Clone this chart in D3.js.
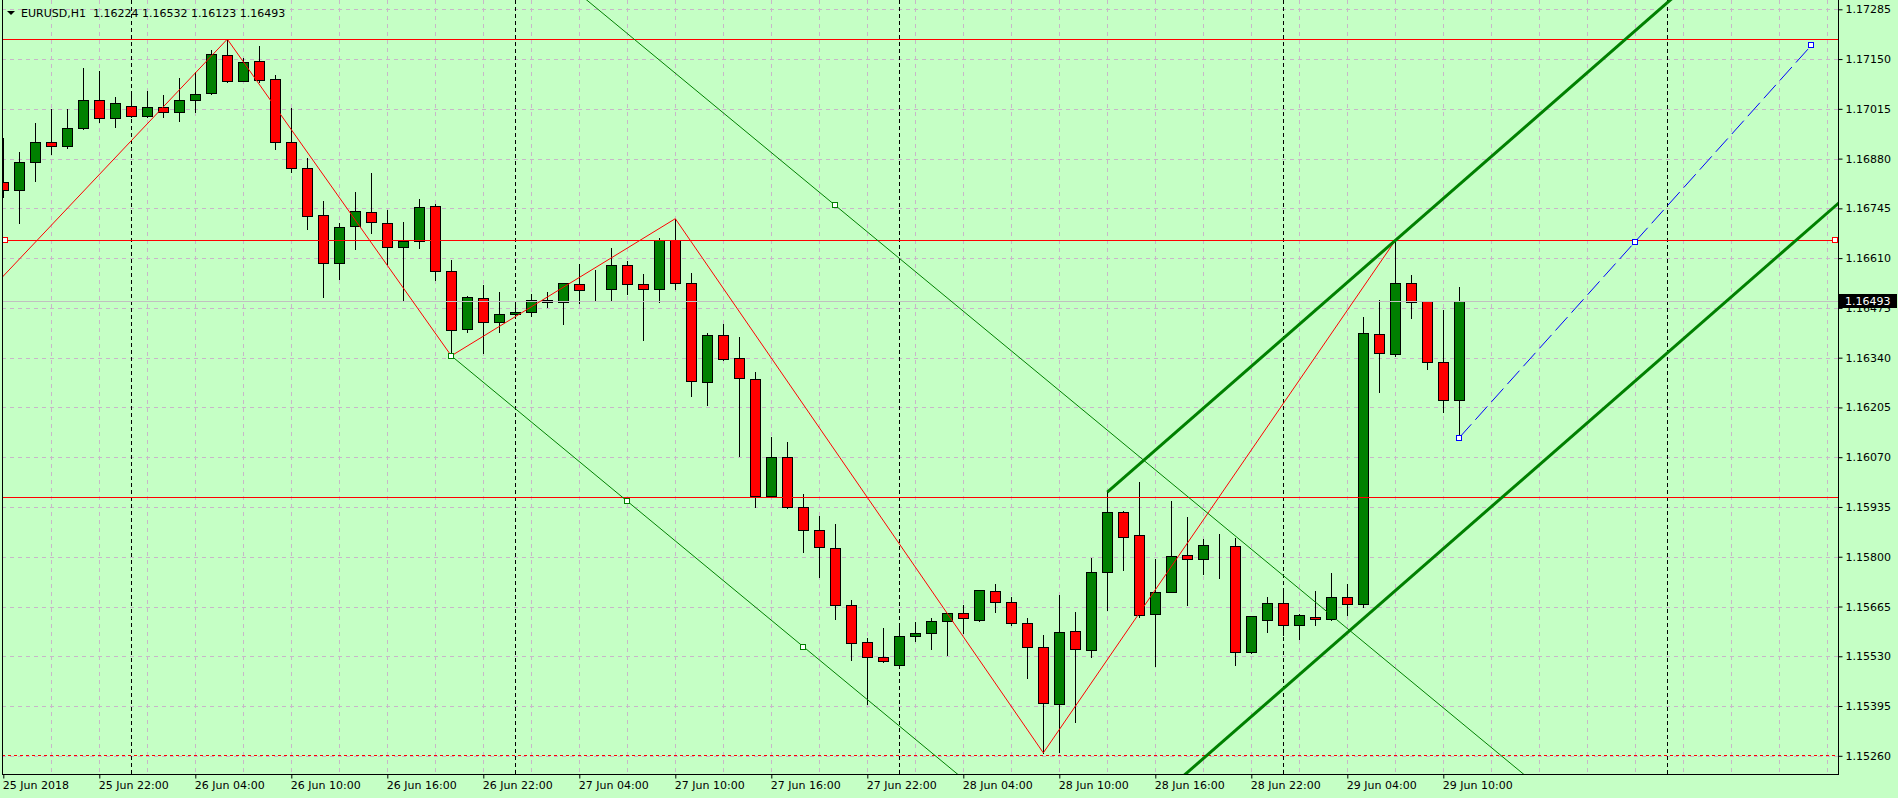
<!DOCTYPE html>
<html>
<head>
<meta charset="utf-8">
<script src="https://cdn.jsdelivr.net/npm/d3@7"></script>
<style>
  body { margin: 0; background: #c5ffc5; }
  svg { display: block; }
</style>
</head>
<body>
<svg id="chart" width="1898" height="798"></svg>
<script>

// EURUSD H1, first bar = 25 Jun 2018 16:00
var opens = [1.16817,1.16795,1.16872,1.16924,1.16913,1.16964,1.17038,1.16989,1.17022,1.16995,
	1.17019,1.17006,1.17038,1.17057,1.17160,1.17091,1.17144,1.17095,1.16924,1.16854,
	1.16726,1.16596,1.16696,1.16734,1.16705,1.16639,1.16656,1.16751,1.16574,1.16417,
	1.16501,1.16436,1.16458,1.16463,1.16496,1.16490,1.16539,1.16525,1.16525,1.16591,
	1.16539,1.16525,1.16658,1.16542,1.16273,1.16401,1.16338,1.16281,1.15964,1.16070,
	1.15934,1.15872,1.15823,1.15668,1.15568,1.15527,1.15506,1.15584,1.15592,1.15625,
	1.15647,1.15629,1.15706,1.15676,1.15619,1.15554,1.15400,1.15598,1.15546,1.15758,
	1.15921,1.15858,1.15644,1.15704,1.15804,1.15793,1.15830,1.15828,1.15541,1.15628,
	1.15674,1.15614,1.15636,1.15630,1.15690,1.15671,1.16403,1.16349,1.16542,1.16493,
	1.16327,1.16224];
var highs = [1.16935,1.16897,1.16976,1.17015,1.17015,1.17125,1.17118,1.17047,1.17060,1.17063,
	1.17053,1.17098,1.17114,1.17174,1.17204,1.17152,1.17185,1.17106,1.17016,1.16881,
	1.16764,1.16705,1.16789,1.16840,1.16740,1.16707,1.16770,1.16756,1.16604,1.16507,
	1.16537,1.16517,1.16490,1.16512,1.16517,1.16543,1.16594,1.16578,1.16637,1.16602,
	1.16567,1.16664,1.16717,1.16569,1.16406,1.16431,1.16396,1.16300,1.16126,1.16110,
	1.15970,1.15910,1.15888,1.15682,1.15579,1.15606,1.15617,1.15622,1.15633,1.15648,
	1.15668,1.15710,1.15725,1.15690,1.15633,1.15587,1.15695,1.15649,1.15796,1.15975,
	1.15923,1.16002,1.15793,1.15950,1.15907,1.15847,1.15861,1.15850,1.15639,1.15690,
	1.15709,1.15644,1.15706,1.15755,1.15725,1.16450,1.16496,1.16658,1.16563,1.16494,
	1.16469,1.16532];
var lows = [1.16777,1.16706,1.16820,1.16893,1.16908,1.16960,1.16980,1.16967,1.16994,1.16993,
	1.16994,1.16983,1.17007,1.17056,1.17087,1.17090,1.17089,1.16907,1.16844,1.16689,
	1.16505,1.16553,1.16636,1.16677,1.16595,1.16495,1.16638,1.16552,1.16345,1.16409,
	1.16354,1.16410,1.16452,1.16454,1.16478,1.16432,1.16489,1.16496,1.16493,1.16514,
	1.16389,1.16490,1.16525,1.16235,1.16211,1.16333,1.16072,1.15936,1.15961,1.15931,
	1.15812,1.15746,1.15632,1.15521,1.15401,1.15515,1.15505,1.15572,1.15551,1.15534,
	1.15592,1.15627,1.15649,1.15616,1.15470,1.15268,1.15270,1.15351,1.15527,1.15656,
	1.15763,1.15636,1.15503,1.15703,1.15668,1.15752,1.15742,1.15506,1.15540,1.15595,
	1.15587,1.15576,1.15614,1.15629,1.15641,1.15663,1.16246,1.16344,1.16448,1.16310,
	1.16192,1.16123];
var closes = [1.16795,1.16872,1.16926,1.16913,1.16962,1.17038,1.16989,1.17030,1.16995,1.17019,
	1.17006,1.17038,1.17054,1.17163,1.17091,1.17141,1.17094,1.16926,1.16854,1.16725,
	1.16596,1.16694,1.16737,1.16707,1.16639,1.16656,1.16748,1.16574,1.16414,1.16504,
	1.16436,1.16458,1.16463,1.16496,1.16490,1.16542,1.16523,1.16525,1.16591,1.16539,
	1.16525,1.16658,1.16542,1.16276,1.16401,1.16336,1.16284,1.15964,1.16070,1.15934,
	1.15872,1.15826,1.15668,1.15565,1.15527,1.15516,1.15584,1.15592,1.15625,1.15647,
	1.15633,1.15709,1.15676,1.15619,1.15554,1.15402,1.15595,1.15549,1.15758,1.15921,
	1.15853,1.15641,1.15704,1.15801,1.15793,1.15831,1.15830,1.15541,1.15638,1.15674,
	1.15614,1.15641,1.15630,1.15690,1.15671,1.16406,1.16352,1.16542,1.16490,1.16327,
	1.16224,1.16493];

var priceTicks = [1.15260,1.15395,1.15530,1.15665,1.15800,1.15935,1.16070,1.16205,
	1.16340,1.16475,1.16610,1.16745,1.16880,1.17015,1.17150,1.17285];
var timeBars = [0,6,12,18,24,30,36,42,48,54,60,66,72,78,84,90];
var timeLabels = ["25 Jun 2018","25 Jun 22:00","26 Jun 04:00","26 Jun 10:00","26 Jun 16:00",
	"26 Jun 22:00","27 Jun 04:00","27 Jun 10:00","27 Jun 16:00","27 Jun 22:00","28 Jun 04:00",
	"28 Jun 10:00","28 Jun 16:00","28 Jun 22:00","29 Jun 04:00","29 Jun 10:00"];
var daySeparators = [8,32,56,80,104];

// chart objects
var redLevels = [1.17204, 1.16658, 1.15961];
var lowLevel = 1.15262;
var zigzagBars = [-6,14,28,42,65,87];
var zigzagPrices = [1.16286,1.17204,1.16345,1.16717,1.15268,1.16658];
var chanBars = [28,50,52];            // equidistant channel: p1, p2, p3
var chanPrices = [1.16345,1.15556,1.16753];
var upChanBars = [69,87];
var upChanPrices = [1.15975,1.16658];
var upChanOffset = -0.00950;
var projBars = [91,113];
var projPrices = [1.16123,1.17187];
var lastPrice = 1.16493;

var W = 1898, H = 798;
var plotL = 2, plotR = 1838, plotB = 774;
var bg = "#c5ffc5", gridColor = "#c8b6c8";
var font = "'DejaVu Sans', Verdana, sans-serif";

var x = d3.scaleLinear().domain([0, 114]).range([3.3, 1827.3]);
var y = d3.scaleLinear().domain([1.15260, 1.17285]).range([755.8, 9.3]);
function px(v) { return Math.round(v) + 0.5; }

var svg = d3.select("#chart");
svg.append("rect").attr("width", W).attr("height", H).attr("fill", bg);

svg.append("defs").append("clipPath").attr("id", "plotClip").append("rect")
	.attr("x", plotL + 1).attr("y", 0).attr("width", plotR - plotL - 1).attr("height", plotB);

var plot = svg.append("g").attr("clip-path", "url(#plotClip)");

// grid
plot.append("g").selectAll("line").data(priceTicks).enter().append("line")
	.attr("x1", plotL).attr("x2", plotR)
	.attr("y1", function(d) { return px(y(d)); })
	.attr("y2", function(d) { return px(y(d)); })
	.attr("stroke", gridColor).attr("stroke-dasharray", "4,4")
	.attr("shape-rendering", "crispEdges");

plot.append("g").selectAll("line").data(d3.range(3, 115, 3)).enter().append("line")
	.attr("x1", function(d) { return px(x(d)); })
	.attr("x2", function(d) { return px(x(d)); })
	.attr("y1", 0).attr("y2", plotB)
	.attr("stroke", gridColor).attr("stroke-dasharray", "4,4")
	.attr("shape-rendering", "crispEdges");

// period separators
plot.append("g").selectAll("line").data(daySeparators).enter().append("line")
	.attr("x1", function(d) { return px(x(d)); })
	.attr("x2", function(d) { return px(x(d)); })
	.attr("y1", 0).attr("y2", plotB)
	.attr("stroke", "#000").attr("stroke-dasharray", "4,3")
	.attr("shape-rendering", "crispEdges");

// candles
var bars = plot.append("g").attr("shape-rendering", "crispEdges")
	.selectAll("g").data(d3.range(opens.length)).enter().append("g");

bars.append("line")
	.attr("x1", function(i) { return px(x(i)); })
	.attr("x2", function(i) { return px(x(i)); })
	.attr("y1", function(i) { return Math.round(y(highs[i])); })
	.attr("y2", function(i) { return Math.round(y(lows[i])) + 1; })
	.attr("stroke", "#000");

bars.append("rect")
	.attr("x", function(i) { return Math.round(x(i)) - 5 + 0.5; })
	.attr("width", 10)
	.attr("y", function(i) { return Math.round(y(Math.max(opens[i], closes[i]))) + 0.5; })
	.attr("height", function(i) {
		return Math.max(0, Math.round(y(Math.min(opens[i], closes[i]))) - Math.round(y(Math.max(opens[i], closes[i]))));
	})
	.attr("fill", function(i) { return closes[i] > opens[i] ? "#008000" : (closes[i] < opens[i] ? "#ff0000" : "#000"); })
	.attr("stroke", "#000");

// current price line
plot.append("line")
	.attr("x1", plotL).attr("x2", plotR)
	.attr("y1", px(y(lastPrice))).attr("y2", px(y(lastPrice)))
	.attr("stroke", "#c0c0c0").attr("shape-rendering", "crispEdges");

// horizontal levels
plot.append("g").selectAll("line").data(redLevels).enter().append("line")
	.attr("x1", plotL).attr("x2", plotR)
	.attr("y1", function(d) { return px(y(d)); })
	.attr("y2", function(d) { return px(y(d)); })
	.attr("stroke", "#ff0000").attr("shape-rendering", "crispEdges");

plot.append("line")
	.attr("x1", plotL).attr("x2", plotR)
	.attr("y1", px(y(lowLevel))).attr("y2", px(y(lowLevel)))
	.attr("stroke", "#ff0000").attr("stroke-dasharray", "3,3")
	.attr("shape-rendering", "crispEdges");

var line = d3.line()
	.x(function(d) { return x(d[0]); })
	.y(function(d) { return y(d[1]); });

// zigzag
plot.append("path")
	.attr("d", line(zigzagBars.map(function(b, i) { return [b, zigzagPrices[i]]; })))
	.attr("fill", "none").attr("stroke", "#ff0000").attr("stroke-width", 1);

// equidistant channel (thin)
var chSlope = (chanPrices[1] - chanPrices[0]) / (chanBars[1] - chanBars[0]);
var chOff = chanPrices[2] - (chanPrices[0] + chSlope * (chanBars[2] - chanBars[0]));
[0, chOff].forEach(function(off) {
	plot.append("path")
		.attr("d", line([[chanBars[0], chanPrices[0] + off],
			[200, chanPrices[0] + off + chSlope * (200 - chanBars[0])]]))
		.attr("fill", "none").attr("stroke", "#008000").attr("stroke-width", 1);
});

// rising channel (thick)
var upSlope = (upChanPrices[1] - upChanPrices[0]) / (upChanBars[1] - upChanBars[0]);
[0, upChanOffset].forEach(function(off) {
	plot.append("path")
		.attr("d", line([[upChanBars[0], upChanPrices[0] + off],
			[200, upChanPrices[0] + off + upSlope * (200 - upChanBars[0])]]))
		.attr("fill", "none").attr("stroke", "#008000").attr("stroke-width", 3);
});

// projection
plot.append("path")
	.attr("d", line(projBars.map(function(b, i) { return [b, projPrices[i]]; })))
	.attr("fill", "none").attr("stroke", "#0000ff").attr("stroke-width", 1)
	.attr("stroke-dasharray", "18,6");

// anchor squares
var squares = [
	[chanBars[0], chanPrices[0], "#008000"],
	[(chanBars[0] + chanBars[1]) / 2, (chanPrices[0] + chanPrices[1]) / 2, "#008000"],
	[chanBars[1], chanPrices[1], "#008000"],
	[chanBars[2], chanPrices[2], "#008000"],
	[projBars[0], projPrices[0], "#0000ff"],
	[(projBars[0] + projBars[1]) / 2, (projPrices[0] + projPrices[1]) / 2, "#0000ff"],
	[projBars[1], projPrices[1], "#0000ff"]
];
plot.append("g").selectAll("rect").data(squares).enter().append("rect")
	.attr("x", function(d) { return Math.round(x(d[0])) - 3 + 0.5; })
	.attr("y", function(d) { return Math.round(y(d[1])) - 3 + 0.5; })
	.attr("width", 5).attr("height", 5)
	.attr("fill", "#fff").attr("stroke", function(d) { return d[2]; })
	.attr("shape-rendering", "crispEdges");

plot.append("g").selectAll("rect").data([5, 1835]).enter().append("rect")
	.attr("x", function(d) { return d - 3 + 0.5; })
	.attr("y", Math.round(y(redLevels[1])) - 3 + 0.5)
	.attr("width", 5).attr("height", 5)
	.attr("fill", "#fff").attr("stroke", "#ff0000")
	.attr("shape-rendering", "crispEdges");

// borders
svg.append("path")
	.attr("d", "M" + (plotL + 0.5) + ",0V" + (plotB + 0.5) + "H" + (plotR + 0.5) + "V0")
	.attr("fill", "none").attr("stroke", "#000").attr("shape-rendering", "crispEdges");

// price axis
var yAxis = d3.axisRight(y)
	.tickValues(priceTicks)
	.tickFormat(d3.format(".5f"))
	.tickSize(4)
	.tickPadding(3);

var yg = svg.append("g").attr("transform", "translate(" + (plotR + 0.5) + ",0)").call(yAxis);
yg.select(".domain").remove();
yg.selectAll("text").attr("font-family", font).attr("font-size", 11).attr("fill", "#000");

// time axis
var xAxis = d3.axisBottom(x)
	.tickValues(timeBars)
	.tickFormat(function(d, i) { return timeLabels[i]; })
	.tickSize(4)
	.tickPadding(3);

var xg = svg.append("g").attr("transform", "translate(0," + (plotB + 0.5) + ")").call(xAxis);
xg.select(".domain").remove();
xg.selectAll("text").attr("font-family", font).attr("font-size", 11).attr("fill", "#000")
	.attr("text-anchor", "start").attr("x", -1);

// last price label
svg.append("rect")
	.attr("x", plotR + 1).attr("y", Math.round(y(lastPrice)) - 7)
	.attr("width", 58).attr("height", 14).attr("fill", "#000");
svg.append("text")
	.attr("x", plotR + 7).attr("y", y(lastPrice))
	.attr("dy", "0.35em")
	.attr("font-family", font).attr("font-size", 11).attr("fill", "#fff")
	.text(d3.format(".5f")(lastPrice));

// header
svg.append("path").attr("d", "M7,11H15L11,15Z").attr("fill", "#000");
svg.append("text")
	.attr("x", 21).attr("y", 17)
	.attr("font-family", font).attr("font-size", 11).attr("fill", "#000")
	.attr("xml:space", "preserve")
	.text("EURUSD,H1  " + [opens[91], highs[91], lows[91], closes[91]].map(d3.format(".5f")).join(" "));

</script>
</body>
</html>
